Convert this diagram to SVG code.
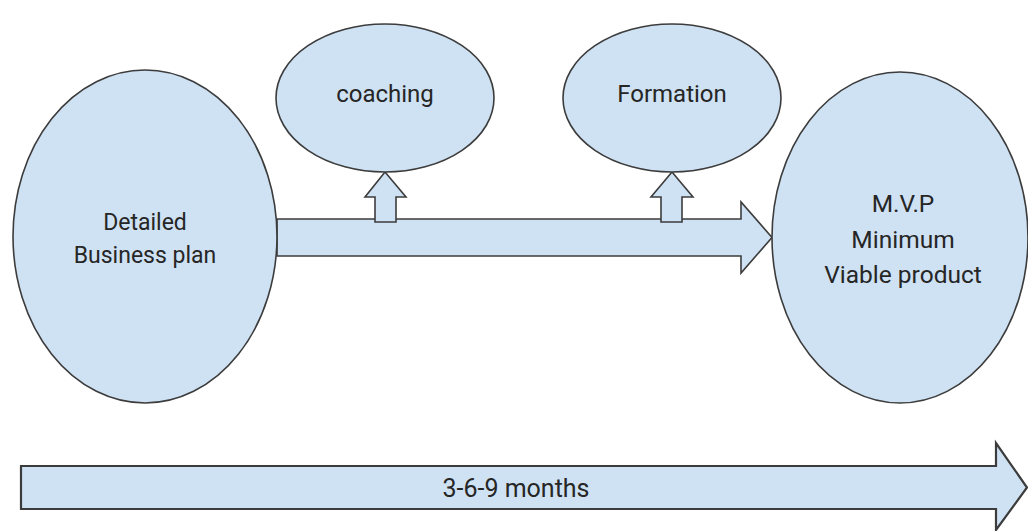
<svg xmlns="http://www.w3.org/2000/svg" width="1028" height="531" viewBox="0 0 1028 531">
<style>
.shape{fill:#cfe2f3;stroke:#3c3c3c;stroke-width:1.6;stroke-linejoin:miter}
.lbl{font-family:Roboto,"Liberation Sans",Arial,sans-serif;font-size:24px;fill:#262626;text-anchor:middle}
</style>
<rect width="1028" height="531" fill="#ffffff"/>
<g id="connectors">
<polygon class="shape" points="277,219 741,219 741,202 772,237.5 741,273 741,256 277,256"/>
<polygon class="shape" points="375,222 375,197 365,197 385,172 406,197 396,197 396,222"/>
<polygon class="shape" points="661,222 661,197 651,197 672,172 693,197 682,197 682,222"/>
</g>
<g id="node-business-plan">
<ellipse class="shape" cx="145" cy="236.5" rx="132" ry="166.5"/>
<text class="lbl" x="145" y="230" style="font-size:23px">Detailed</text>
<text class="lbl" x="145" y="263" style="font-size:23px">Business plan</text>
</g>
<g id="node-coaching">
<ellipse class="shape" cx="385" cy="98" rx="109" ry="74"/>
<text class="lbl" x="385" y="102">coaching</text>
</g>
<g id="node-formation">
<ellipse class="shape" cx="672" cy="98" rx="109" ry="74"/>
<text class="lbl" x="672" y="102">Formation</text>
</g>
<g id="node-mvp">
<ellipse class="shape" cx="900" cy="237.5" rx="128" ry="165.5"/>
<text class="lbl" x="903" y="212" style="font-size:24.5px">M.V.P</text>
<text class="lbl" x="903" y="248" style="font-size:24.5px">Minimum</text>
<text class="lbl" x="903" y="283" style="font-size:24.5px">Viable product</text>
</g>
<g id="node-timeline">
<polygon class="shape" style="stroke-width:2.2" points="21,466 996,466 996,443 1027,487.5 996,530 996,509 21,509"/>
<text class="lbl" x="516" y="497" style="font-size:25px">3-6-9 months</text>
</g>
</svg>
